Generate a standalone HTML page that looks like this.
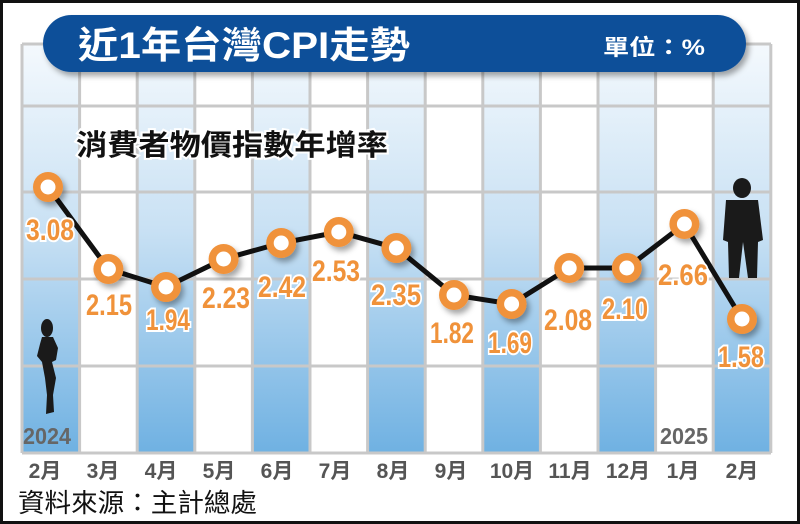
<!DOCTYPE html>
<html><head><meta charset="utf-8">
<style>
body{margin:0;background:#fff;}
svg{display:block;}
</style></head><body>
<svg width="800" height="524" viewBox="0 0 800 524" xmlns="http://www.w3.org/2000/svg">
<defs>
<linearGradient id="bl" x1="0" y1="0" x2="0" y2="1">
<stop offset="0" stop-color="#f4f9fd"/>
<stop offset="0.45" stop-color="#c9e1f4"/>
<stop offset="1" stop-color="#6fb1e2"/>
</linearGradient>
<filter id="sh" x="-10%" y="-20%" width="130%" height="160%"><feDropShadow dx="3" dy="4" stdDeviation="3" flood-color="#000" flood-opacity="0.35"/></filter>
</defs>
<rect x="1.5" y="1.5" width="797" height="521" fill="#fff" stroke="#111" stroke-width="3"/>
<g>
<rect x="22" y="44" width="57.6" height="409" fill="url(#bl)"/>
<rect x="137.2" y="44" width="57.6" height="409" fill="url(#bl)"/>
<rect x="252.4" y="44" width="57.6" height="409" fill="url(#bl)"/>
<rect x="367.6" y="44" width="57.6" height="409" fill="url(#bl)"/>
<rect x="482.8" y="44" width="57.6" height="409" fill="url(#bl)"/>
<rect x="598" y="44" width="57.6" height="409" fill="url(#bl)"/>
<rect x="713.2" y="44" width="57.6" height="409" fill="url(#bl)"/>
</g>
<g stroke="#c8c8c8" stroke-width="3">
<line x1="22" y1="44" x2="771" y2="44"/>
<line x1="22" y1="106" x2="771" y2="106"/>
<line x1="22" y1="192" x2="771" y2="192"/>
<line x1="22" y1="279" x2="771" y2="279"/>
<line x1="22" y1="366" x2="771" y2="366"/>
<line x1="22" y1="453" x2="771" y2="453"/>
<line x1="22" y1="44" x2="22" y2="453"/><line x1="79.6" y1="44" x2="79.6" y2="453"/><line x1="137.2" y1="44" x2="137.2" y2="453"/><line x1="194.8" y1="44" x2="194.8" y2="453"/><line x1="252.4" y1="44" x2="252.4" y2="453"/><line x1="310" y1="44" x2="310" y2="453"/><line x1="367.6" y1="44" x2="367.6" y2="453"/><line x1="425.2" y1="44" x2="425.2" y2="453"/><line x1="482.8" y1="44" x2="482.8" y2="453"/><line x1="540.4" y1="44" x2="540.4" y2="453"/><line x1="598" y1="44" x2="598" y2="453"/><line x1="655.6" y1="44" x2="655.6" y2="453"/><line x1="713.2" y1="44" x2="713.2" y2="453"/><line x1="770.8" y1="44" x2="770.8" y2="453"/>
</g>
<rect x="43" y="15" width="703" height="57" rx="28.5" fill="#0b4f99" filter="url(#sh)"/>
<text x="78" y="58" textLength="332" lengthAdjust="spacingAndGlyphs" font-family="Liberation Sans,'Noto Sans CJK TC',sans-serif" font-weight="bold" font-size="37" fill="#fff">近1年台灣CPI走勢</text>
<text x="603" y="55" textLength="102" lengthAdjust="spacingAndGlyphs" font-family="Liberation Sans,'Noto Sans CJK TC',sans-serif" font-weight="bold" font-size="22" fill="#fff">單位：%</text>
<text x="76" y="155" textLength="312" lengthAdjust="spacingAndGlyphs" font-family="Liberation Sans,'Noto Sans CJK TC',sans-serif" font-weight="bold" font-size="29" fill="#111" stroke="#fff" stroke-width="4" paint-order="stroke">消費者物價指數年增率</text>
<g fill="#1a1a1a">
<ellipse cx="47" cy="328" rx="6" ry="9"/>
<path d="M42 337 L53 337 L58 348 L56 360 L52 362 L56 378 L53 395 L54 412 L46 414 L47 395 L45 378 L42 362 L37 356 L40 344 Z"/>
<ellipse cx="742" cy="188" rx="9" ry="10"/>
<path d="M726 200 L758 200 L763 240 L758 242 L757 278 L748 278 L743 242 L739 278 L729 278 L728 242 L723 240 Z"/>
</g>
<text x="47" y="444" text-anchor="middle" textLength="48" lengthAdjust="spacingAndGlyphs" font-family="Liberation Sans,sans-serif" font-weight="bold" font-size="23" fill="#666">2024</text>
<text x="684" y="444" text-anchor="middle" textLength="48" lengthAdjust="spacingAndGlyphs" font-family="Liberation Sans,sans-serif" font-weight="bold" font-size="23" fill="#666">2025</text>
<polyline fill="none" stroke="#111" stroke-width="5" points="48,187 108.4,269 166,287 223.6,259 281.2,243 338.8,232 396.4,248 454,295 511.6,304 569.2,268 626.8,268 684.4,224 742,319"/>
<g filter="url(#sh)">
<g fill="#f0923a">
<circle cx="48" cy="187" r="15"/><circle cx="108.4" cy="269" r="15"/><circle cx="166" cy="287" r="15"/><circle cx="223.6" cy="259" r="15"/><circle cx="281.2" cy="243" r="15"/><circle cx="338.8" cy="232" r="15"/><circle cx="396.4" cy="248" r="15"/><circle cx="454" cy="295" r="15"/><circle cx="511.6" cy="304" r="15"/><circle cx="569.2" cy="268" r="15"/><circle cx="626.8" cy="268" r="15"/><circle cx="684.4" cy="224" r="15"/><circle cx="742" cy="319" r="15"/>
</g></g>
<g fill="#fff">
<circle cx="48" cy="187" r="7.5"/><circle cx="108.4" cy="269" r="7.5"/><circle cx="166" cy="287" r="7.5"/><circle cx="223.6" cy="259" r="7.5"/><circle cx="281.2" cy="243" r="7.5"/><circle cx="338.8" cy="232" r="7.5"/><circle cx="396.4" cy="248" r="7.5"/><circle cx="454" cy="295" r="7.5"/><circle cx="511.6" cy="304" r="7.5"/><circle cx="569.2" cy="268" r="7.5"/><circle cx="626.8" cy="268" r="7.5"/><circle cx="684.4" cy="224" r="7.5"/><circle cx="742" cy="319" r="7.5"/>
</g>
<g font-family="Liberation Sans,sans-serif" font-weight="bold" font-size="30" fill="#f0923a" stroke="#fff" stroke-width="4" paint-order="stroke" text-anchor="middle">
<text x="50" y="240" textLength="48" lengthAdjust="spacingAndGlyphs">3.08</text>
<text x="109" y="315" textLength="46" lengthAdjust="spacingAndGlyphs">2.15</text>
<text x="168" y="330" textLength="44" lengthAdjust="spacingAndGlyphs">1.94</text>
<text x="226" y="308" textLength="48" lengthAdjust="spacingAndGlyphs">2.23</text>
<text x="282" y="297" textLength="48" lengthAdjust="spacingAndGlyphs">2.42</text>
<text x="336" y="281" textLength="48" lengthAdjust="spacingAndGlyphs">2.53</text>
<text x="396" y="305" textLength="50" lengthAdjust="spacingAndGlyphs">2.35</text>
<text x="452" y="343" textLength="44" lengthAdjust="spacingAndGlyphs">1.82</text>
<text x="510" y="353" textLength="44" lengthAdjust="spacingAndGlyphs">1.69</text>
<text x="568" y="330" textLength="48" lengthAdjust="spacingAndGlyphs">2.08</text>
<text x="625" y="319" textLength="46" lengthAdjust="spacingAndGlyphs">2.10</text>
<text x="683" y="285" textLength="50" lengthAdjust="spacingAndGlyphs">2.66</text>
<text x="741" y="367" textLength="46" lengthAdjust="spacingAndGlyphs">1.58</text>
</g>
<g font-family="Liberation Sans,'Noto Sans CJK TC',sans-serif" font-weight="bold" font-size="21" fill="#555" text-anchor="middle">
<text x="45" y="478">2月</text><text x="103" y="478">3月</text><text x="161" y="478">4月</text><text x="219" y="478">5月</text><text x="277" y="478">6月</text><text x="335" y="478">7月</text><text x="393" y="478">8月</text><text x="451" y="478">9月</text><text x="512" y="478">10月</text><text x="570" y="478">11月</text><text x="628" y="478">12月</text><text x="683" y="478">1月</text><text x="742" y="478">2月</text>
</g>
<text x="18" y="512" textLength="239" lengthAdjust="spacingAndGlyphs" font-family="Liberation Sans,'Noto Sans CJK TC',sans-serif" font-size="26" fill="#111">資料來源：主計總處</text>
</svg>
</body></html>
